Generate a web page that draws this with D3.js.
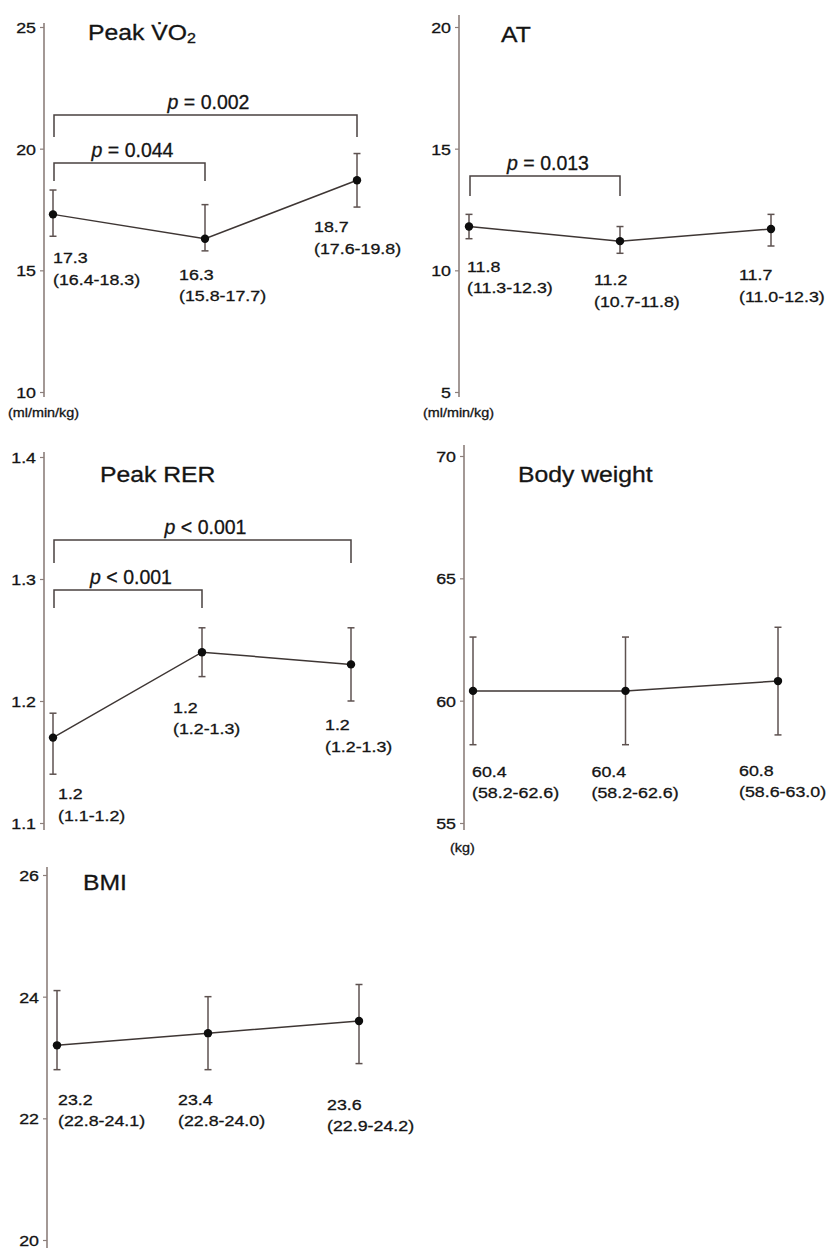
<!DOCTYPE html>
<html>
<head>
<meta charset="utf-8">
<script src="https://cdn.jsdelivr.net/npm/d3@7"></script>
<style>
  body { margin: 0; background: #ffffff; }
  svg text { font-family: "Liberation Sans", Arial, Helvetica, sans-serif; fill: #141414; stroke: #141414; stroke-width: 0.3px; }
</style>
</head>
<body>
<svg id="chart" width="829" height="1250"></svg>
<script>
// Three measurement time points (shared x categories)
const timepoints = ["T0", "T1", "T2"];

// Peak VO2 (ml/min/kg): median and 95% CI
const vo2Values = [17.3, 16.3, 18.7];
const vo2Low    = [16.4, 15.8, 17.6];
const vo2High   = [18.3, 17.7, 19.8];
const vo2Ticks  = [10, 15, 20, 25];
const vo2Tests  = [{ from: 0, to: 2, p: "0.002", op: "=" }, { from: 0, to: 1, p: "0.044", op: "=" }];

// Anaerobic threshold (ml/min/kg)
const atValues = [11.8, 11.2, 11.7];
const atLow    = [11.3, 10.7, 11.0];
const atHigh   = [12.3, 11.8, 12.3];
const atTicks  = [5, 10, 15, 20];
const atTests  = [{ from: 0, to: 1, p: "0.013", op: "=" }];

// Peak respiratory exchange ratio
const rerValues = [1.17, 1.24, 1.23];
const rerLow    = [1.14, 1.22, 1.20];
const rerHigh   = [1.19, 1.26, 1.26];
const rerTicks  = [1.1, 1.2, 1.3, 1.4];
const rerTests  = [{ from: 0, to: 2, p: "0.001", op: "<" }, { from: 0, to: 1, p: "0.001", op: "<" }];

// Body weight (kg)
const weightValues = [60.4, 60.4, 60.8];
const weightLow    = [58.2, 58.2, 58.6];
const weightHigh   = [62.6, 62.6, 63.0];
const weightTicks  = [55, 60, 65, 70];

// Body mass index
const bmiValues = [23.2, 23.4, 23.6];
const bmiLow    = [22.8, 22.8, 22.9];
const bmiHigh   = [24.1, 24.0, 24.2];
const bmiTicks  = [20, 22, 24, 26];

const fmtInt = d3.format("d");
const fmt1 = d3.format(".1f");

// Panel definitions: data plus the layout of each small multiple
const panels = [
  {
    title: "PeakVO2", values: vo2Values, low: vo2Low, high: vo2High, ticks: vo2Ticks, tickFmt: fmtInt,
    unit: "(ml/min/kg)", tests: vo2Tests,
    axisX: 44, top: 27, bottom: 392, x0: 53, x1: 357, ext: [4, 5],
    titleDx: 44, titleDy: 13,
    labelDx: [0, -26, -43], labelDy: [27, 29, 25],
    brackets: [{ level: 21.38, leg: 22 }, { level: 19.41, leg: 18 }],
    unitPos: [8, 417]
  },
  {
    title: "AT", values: atValues, low: atLow, high: atHigh, ticks: atTicks, tickFmt: fmtInt,
    unit: "(ml/min/kg)", tests: atTests,
    axisX: 459, top: 27, bottom: 392, x0: 469, x1: 771, ext: [12, 5],
    titleDx: 42, titleDy: 15,
    labelDx: [-2, -26, -32], labelDy: [33, 32, 34],
    brackets: [{ level: 13.88, leg: 20 }],
    unitPos: [423, 417]
  },
  {
    title: "Peak RER", values: rerValues, low: rerLow, high: rerHigh, ticks: rerTicks, tickFmt: fmt1,
    unit: null, tests: rerTests,
    axisX: 44, top: 457, bottom: 823, x0: 53, x1: 351, ext: [5, 7],
    titleDx: 56, titleDy: 25,
    labelDx: [5, -29, -26], labelDy: [25, 36, 29],
    brackets: [{ level: 1.332, leg: 23 }, { level: 1.291, leg: 18 }]
  },
  {
    title: "Body weight", values: weightValues, low: weightLow, high: weightHigh, ticks: weightTicks, tickFmt: fmtInt,
    unit: "(kg)", tests: [],
    axisX: 464, top: 456, bottom: 823, x0: 473, x1: 778, ext: [11, 7],
    titleDx: 54, titleDy: 26,
    labelDx: [-1, -34, -39], labelDy: [32, 32, 41],
    brackets: [],
    unitPos: [450, 852]
  },
  {
    title: "BMI", values: bmiValues, low: bmiLow, high: bmiHigh, ticks: bmiTicks, tickFmt: fmtInt,
    unit: null, tests: [],
    axisX: 47, top: 875, bottom: 1240, x0: 57, x1: 359, ext: [8, 8],
    titleDx: 36, titleDy: 15,
    labelDx: [1, -30, -32], labelDy: [35, 35, 46],
    brackets: []
  }
];

const STRETCH = 1.15;          // glyphs in this figure are set slightly wide
const axisColor = "#8c7f7b";
const barColor = "#5e5250";
const lineColor = "#3e3634";
const bracketColor = "#4a4240";

const svg = d3.select("#chart");

function placeText(sel, x, y, sx = STRETCH) {
  return sel.attr("x", 0).attr("y", 0).attr("transform", `translate(${x},${y}) scale(${sx},1)`);
}

panels.forEach(P => {
  const g = svg.append("g");
  const lo = d3.min(P.ticks), hi = d3.max(P.ticks);
  const y = d3.scaleLinear().domain([lo, hi]).range([P.bottom, P.top]);
  const x = d3.scalePoint().domain(timepoints).range([P.x0, P.x1]);

  // y axis
  const ax = g.append("g")
    .attr("transform", `translate(${P.axisX},0)`)
    .call(d3.axisLeft(y).tickValues(P.ticks).tickFormat(P.tickFmt).tickSize(4).tickSizeOuter(0));
  ax.attr("font-family", null).attr("font-size", null);
  ax.select(".domain").remove();
  ax.selectAll(".tick line").attr("stroke", axisColor).attr("stroke-width", 1.2);
  ax.selectAll(".tick text")
    .attr("font-size", 15.5)
    .attr("fill", "#141414")
    .attr("text-anchor", "end")
    .attr("dy", "0.36em")
    .attr("x", 0)
    .attr("transform", `translate(-8,0) scale(${STRETCH},1)`);

  g.append("line")
    .attr("x1", P.axisX).attr("x2", P.axisX)
    .attr("y1", P.top - P.ext[0]).attr("y2", P.bottom + P.ext[1])
    .attr("stroke", axisColor).attr("stroke-width", 1.6);

  // unit label under the axis
  if (P.unit) {
    placeText(g.append("text").attr("font-size", 12.5).text(P.unit), P.unitPos[0], P.unitPos[1]);
  }

  // title
  const t = placeText(g.append("text").attr("font-size", 21.5), P.axisX + P.titleDx, P.top + P.titleDy);
  if (P.title === "PeakVO2") {
    t.append("tspan").text("Peak V\u0307O");
    t.append("tspan").attr("font-size", 14).attr("dy", 3).text("2");
  } else {
    t.text(P.title);
  }

  // comparison brackets with p values
  P.tests.forEach((c, i) => {
    const b = P.brackets[i];
    const xa = x(timepoints[c.from]) + 1, xb = x(timepoints[c.to]);
    const yb = y(b.level);
    g.append("path")
      .attr("d", d3.line()([[xa, yb + b.leg], [xa, yb], [xb, yb], [xb, yb + b.leg]]))
      .attr("fill", "none").attr("stroke", bracketColor).attr("stroke-width", 1.5);
    const pt = g.append("text").attr("font-size", 19.5).attr("text-anchor", "middle")
      .attr("x", (xa + xb) / 2 + 3).attr("y", yb - 6);
    pt.append("tspan").attr("font-style", "italic").text("p");
    pt.append("tspan").text(` ${c.op} ${c.p}`);
  });

  const rows = timepoints.map((k, i) => ({ k, v: P.values[i], lo: P.low[i], hi: P.high[i], i }));

  // connecting line
  g.append("path")
    .datum(rows)
    .attr("d", d3.line().x(d => x(d.k)).y(d => y(d.v)))
    .attr("fill", "none").attr("stroke", lineColor).attr("stroke-width", 1.5);

  // error bars
  const eb = g.selectAll(".eb").data(rows).join("g").attr("class", "eb")
    .attr("stroke", barColor).attr("stroke-width", 1.5);
  eb.append("line").attr("x1", d => x(d.k)).attr("x2", d => x(d.k))
    .attr("y1", d => y(d.lo)).attr("y2", d => y(d.hi));
  eb.append("line").attr("x1", d => x(d.k) - 3.5).attr("x2", d => x(d.k) + 3.5)
    .attr("y1", d => y(d.hi)).attr("y2", d => y(d.hi));
  eb.append("line").attr("x1", d => x(d.k) - 3.5).attr("x2", d => x(d.k) + 3.5)
    .attr("y1", d => y(d.lo)).attr("y2", d => y(d.lo));

  // points
  g.selectAll(".pt").data(rows).join("circle").attr("class", "pt")
    .attr("cx", d => x(d.k)).attr("cy", d => y(d.v)).attr("r", 4.2).attr("fill", "#0d0d0d");

  // value labels: median, then (CI)
  rows.forEach(d => {
    const lx = x(d.k) + P.labelDx[d.i];
    const ly = y(d.lo) + P.labelDy[d.i];
    placeText(g.append("text").attr("font-size", 15.5).text(fmt1(d.v)), lx, ly);
    placeText(g.append("text").attr("font-size", 15.5).text(`(${fmt1(d.lo)}-${fmt1(d.hi)})`), lx, ly + 21.5);
  });
});
</script>
</body>
</html>
